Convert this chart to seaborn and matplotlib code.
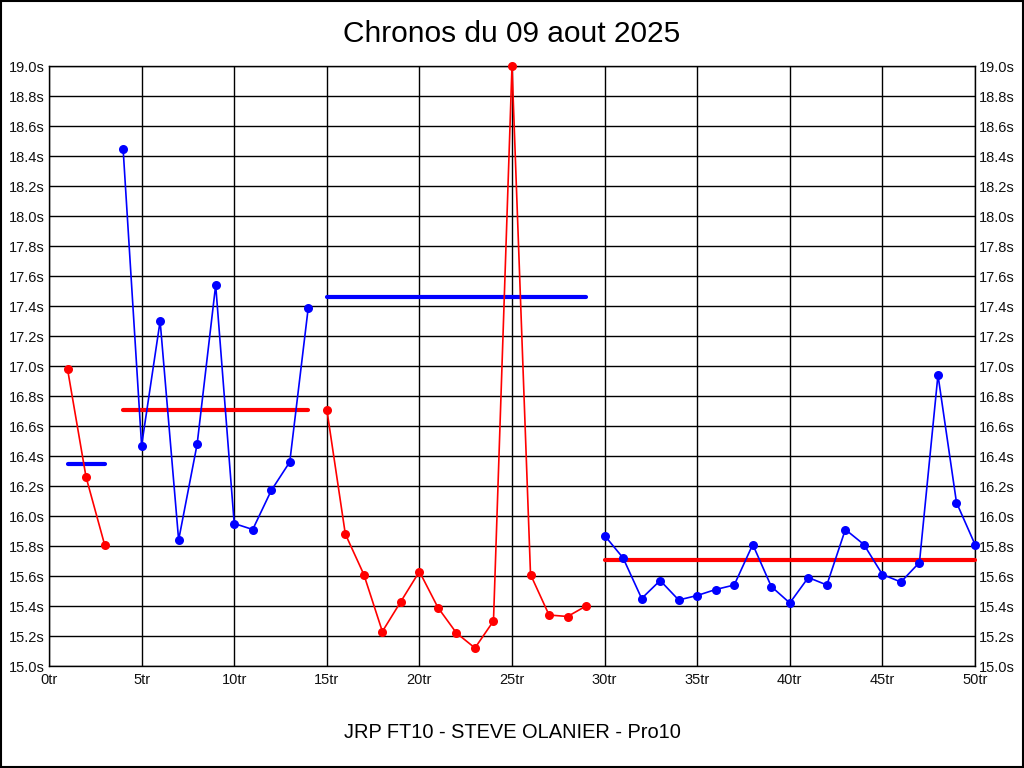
import matplotlib
matplotlib.use("Agg")
import matplotlib.pyplot as plt
import seaborn as sns
import pandas as pd
import numpy as np
from matplotlib.patches import Rectangle

# ---- data ----
laps = list(range(1, 51))
lap_times = [16.98, 16.26, 15.81,
             18.45, 16.47, 17.30, 15.84, 16.48, 17.54, 15.95, 15.91, 16.17, 16.36, 17.39,
             16.71, 15.88, 15.61, 15.23, 15.43, 15.63, 15.39, 15.22, 15.12, 15.30,
             19.00, 15.61, 15.34, 15.33, 15.40,
             15.87, 15.72, 15.45, 15.57, 15.44, 15.47, 15.51, 15.54, 15.81, 15.53,
             15.42, 15.59, 15.54, 15.91, 15.81, 15.61, 15.56, 15.69, 16.94, 16.09, 15.81]
segment_starts = [1, 4, 15, 30]
segment_ends = [3, 14, 29, 50]
segment_colors = ["#ff0000", "#0000ff", "#ff0000", "#0000ff"]
average_colors = ["#0000ff", "#ff0000", "#0000ff", "#ff0000"]
segment_averages = [16.35, 16.71, 17.46, 15.71]

title = "Chronos du 09 aout 2025"
footer = "JRP FT10 - STEVE OLANIER - Pro10"
x_ticks = list(range(0, 51, 5))
y_ticks = [round(15.0 + 0.2 * i, 1) for i in range(21)]

# ---- build table ----
seg_ids = []
for lap in laps:
    for i, (s, e) in enumerate(zip(segment_starts, segment_ends)):
        if s <= lap <= e:
            seg_ids.append(i)
df = pd.DataFrame({"lap": laps, "time": lap_times, "segment": seg_ids})

sns.set_theme(style="white")
plt.rcParams["font.family"] = ["Liberation Sans", "DejaVu Sans"]

fig = plt.figure(figsize=(10.24, 7.68), dpi=100)
fig.patch.set_facecolor("white")
ax = fig.add_axes([49 / 1024, 1 - 666 / 768, (975 - 49) / 1024, 600 / 768])

# average lines
for i in range(len(segment_starts)):
    avg_df = pd.DataFrame({"x": [segment_starts[i], segment_ends[i]],
                           "y": [segment_averages[i], segment_averages[i]]})
    sns.lineplot(data=avg_df, x="x", y="y", ax=ax, color=average_colors[i],
                 linewidth=3, zorder=3)

# lap time lines
palette = {i: c for i, c in enumerate(segment_colors)}
sns.lineplot(data=df, x="lap", y="time", hue="segment", palette=palette,
             ax=ax, linewidth=1.2, marker="o", markersize=6.5,
             markeredgewidth=0, legend=False, zorder=4, sort=True)

for ln in ax.lines:
    ln.set_clip_on(False)

ax.set_xlim(0, 50)
ax.set_ylim(15.0, 19.0)
ax.set_xticks(x_ticks)
ax.set_xticklabels([f"{t}tr" for t in x_ticks])
ax.set_yticks(y_ticks)
ax.set_yticklabels([f"{t:.1f}s" for t in y_ticks])
ax.tick_params(axis="y", labelleft=True, labelright=True, length=0, pad=3,
               labelsize=10.5, colors="#111111")
ax.tick_params(axis="x", length=0, pad=5, labelsize=10.5, colors="#111111")
ax.grid(True, color="black", linewidth=1)
ax.set_axisbelow(True)
for sp in ax.spines.values():
    sp.set_color("black")
    sp.set_linewidth(1)
ax.set_xlabel("")
ax.set_ylabel("")

fig.text(0.5, 1 - 34 / 768, title, ha="center", va="center", fontsize=21.5,
         color="black")
fig.text(0.5, 1 - 733 / 768, footer, ha="center", va="center", fontsize=14.4,
         color="black")

fig.patches.append(Rectangle((0.001, 0.001), 0.998, 0.998, transform=fig.transFigure,
                             fill=False, edgecolor="black", linewidth=1.5))

fig.savefig("out.png", dpi=100)
